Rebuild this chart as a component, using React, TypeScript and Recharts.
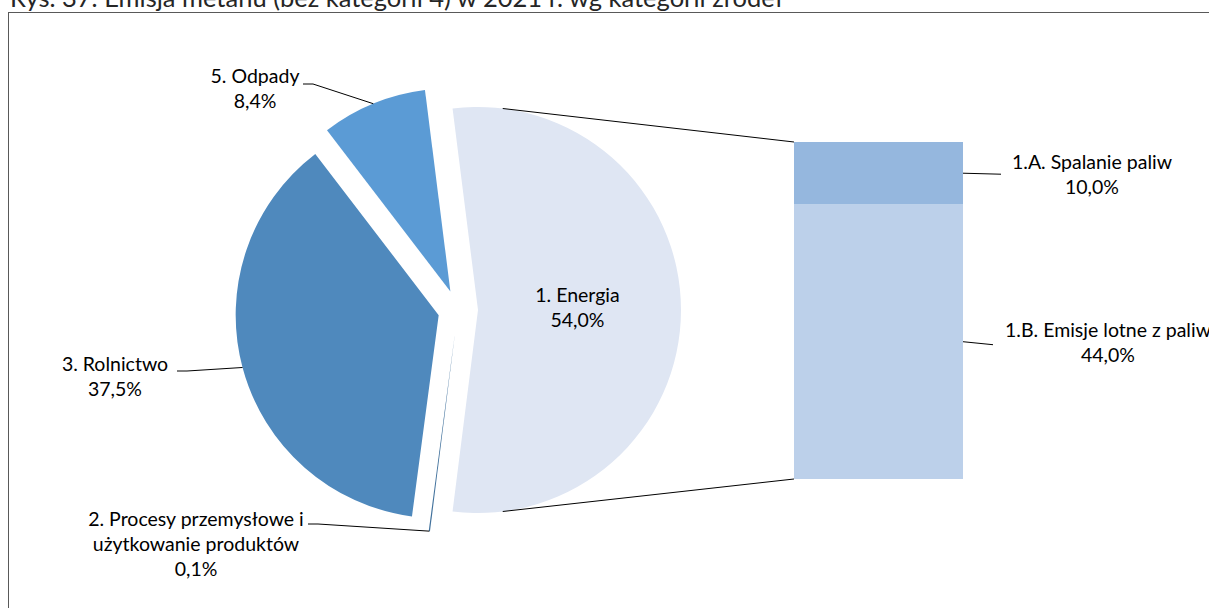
import { Bar, BarChart, Cell, LabelList, Pie, PieChart, XAxis, YAxis } from 'recharts'

const W = 1209
const H = 608

const TITLE = 'Rys. 37. Emisja metanu (bez kategorii 4) w 2021 r. wg kategorii źródeł'

// main pie: categories + shares (%)
const categories = [
  '1. Energia',
  '2. Procesy przemysłowe i\nużytkowanie produktów',
  '3. Rolnictwo',
  '5. Odpady',
]
const shares = [54.0, 0.1, 37.5, 8.4]

// bar-of-pie split of 1. Energia
const subCategories = ['1.A. Spalanie paliw', '1.B. Emisje lotne z paliw']
const subShares = [10.0, 44.0]

const SLICE_COLORS = ['#dfe6f3', '#41719c', '#4f89bd', '#5b9bd5']
const SUB_COLORS = ['#95b7de', '#bcd0ea']
const FONT = 'Lato, "Open Sans", sans-serif'
const FONT_SIZE = 19.5
const LINE_GAP = 25

const PIE_CX = 458
const PIE_CY = 310
const RADIUS = 203
const EXPLODE = 20
const CONNECTOR_ANGLE = 83

const BAR_LEFT = 794
const BAR_RIGHT = 963
const BAR_TOP = 142
const BAR_BOTTOM = 479

const RAD = Math.PI / 180
const total = shares.reduce((a, b) => a + b, 0)
const START_ANGLE = (shares[0] / total) * 180

const pieData = categories.map((name, i) => ({ name, value: shares[i] }))
const barData = [{ name: categories[0], spalanie: subShares[0], lotne: subShares[1] }]

// label placement for slices outside the pie (text centre x, first baseline, leader start)
const SLICE_LABELS: Record<number, { tx: number; ty: number; lx: number; ly: number }> = {
  1: { tx: 196, ty: 526, lx: 308, ly: 524 },
  2: { tx: 115, ty: 371, lx: 177, ly: 371 },
  3: { tx: 255, ty: 83, lx: 303, ly: 84 },
}
const SUB_LABELS = [
  { dx: 129, lineDx: 38, lineDy: 1 },
  { dx: 145, lineDx: 30, lineDy: 3 },
]

const fmt = (v: number) => `${v.toFixed(1).replace('.', ',')}%`

function midAngle(i: number) {
  const before = shares.slice(0, i).reduce((a, b) => a + b, 0)
  return START_ANGLE - ((before + shares[i] / 2) / total) * 360
}

function sliceCenter(i: number) {
  const a = midAngle(i) * RAD
  return { x: PIE_CX + EXPLODE * Math.cos(a), y: PIE_CY - EXPLODE * Math.sin(a) }
}

function TextLines({ x, y, lines }: { x: number; y: number; lines: string[] }) {
  return (
    <text x={x} y={y} textAnchor="middle" fill="#000" fontFamily={FONT} fontSize={FONT_SIZE}>
      {lines.map((l, i) => (
        <tspan key={i} x={x} y={y + i * LINE_GAP}>
          {l}
        </tspan>
      ))}
    </text>
  )
}

function renderSliceLabel(visible: number) {
  return (props: any) => {
    const name = props.payload?.name ?? props.name
    if (name !== categories[visible]) return null
    const lines = [...categories[visible].split('\n'), fmt(shares[visible])]
    if (visible === 0) {
      return <TextLines x={props.cx + RADIUS * 0.49} y={props.cy - 8} lines={lines} />
    }
    const cfg = SLICE_LABELS[visible]
    const a = props.midAngle * RAD
    const px = props.cx + props.outerRadius * Math.cos(a)
    const py = props.cy - props.outerRadius * Math.sin(a)
    return (
      <g>
        <polyline
          points={`${cfg.lx},${cfg.ly} ${cfg.lx + 10},${cfg.ly} ${px},${py}`}
          fill="none"
          stroke="#000"
          strokeWidth={1}
        />
        <TextLines x={cfg.tx} y={cfg.ty} lines={lines} />
      </g>
    )
  }
}

function energyPoint(angle: number) {
  const c = sliceCenter(0)
  return { x: c.x + RADIUS * Math.cos(angle * RAD), y: c.y - RADIUS * Math.sin(angle * RAD) }
}

function SubBarShape(props: any, top: boolean, color: string) {
  const { x, y, width, height } = props
  const p = energyPoint(top ? CONNECTOR_ANGLE : -CONNECTOR_ANGLE)
  const ey = top ? y : y + height
  return (
    <g>
      <rect x={x} y={y} width={width} height={height} fill={color} />
      <line x1={p.x} y1={p.y} x2={x} y2={ey} stroke="#000" strokeWidth={1} />
    </g>
  )
}

function renderSubLabel(idx: number) {
  return (props: any) => {
    const { x, y, width, height } = props
    const cfg = SUB_LABELS[idx]
    const right = x + width
    const mid = y + height / 2
    return (
      <g>
        <line
          x1={right}
          y1={mid}
          x2={right + cfg.lineDx}
          y2={mid + cfg.lineDy}
          stroke="#000"
          strokeWidth={1}
        />
        <TextLines
          x={right + cfg.dx}
          y={mid - 4.5}
          lines={[subCategories[idx], fmt(subShares[idx])]}
        />
      </g>
    )
  }
}

export default function App() {
  return (
    <div
      style={{
        position: 'absolute',
        left: 0,
        top: 0,
        width: W,
        height: H,
        overflow: 'hidden',
        background: '#fff',
      }}
    >
      <svg width={W} height={H} style={{ position: 'absolute', left: 0, top: 0 }}>
        <text x={10} y={7} fontFamily={FONT} fontSize={25.5} fill="#262626">
          {TITLE}
        </text>
        <rect x={8.5} y={12.5} width={W} height={H} fill="none" stroke="#595959" strokeWidth={1} />
      </svg>

      <div style={{ position: 'absolute', left: 0, top: 0 }}>
        <PieChart width={W} height={H} margin={{ top: 0, right: 0, bottom: 0, left: 0 }}>
          {categories.map((_, s) => {
            const c = sliceCenter(s)
            return (
              <Pie
                key={s}
                data={pieData}
                dataKey="value"
                nameKey="name"
                cx={c.x}
                cy={c.y}
                outerRadius={RADIUS}
                startAngle={START_ANGLE}
                endAngle={START_ANGLE - 360}
                stroke="none"
                isAnimationActive={false}
                label={renderSliceLabel(s)}
                labelLine={false}
              >
                {pieData.map((_, i) => (
                  <Cell key={i} fill={i === s ? SLICE_COLORS[i] : 'none'} />
                ))}
              </Pie>
            )
          })}
        </PieChart>
      </div>

      <div style={{ position: 'absolute', left: 0, top: 0, pointerEvents: 'none' }}>
        <BarChart
          width={W}
          height={H}
          data={barData}
          barCategoryGap={0}
          margin={{ top: BAR_TOP, right: W - BAR_RIGHT, bottom: H - BAR_BOTTOM, left: BAR_LEFT }}
        >
          <XAxis dataKey="name" hide />
          <YAxis hide domain={[0, subShares.reduce((a, b) => a + b, 0)]} />
          <Bar
            dataKey="lotne"
            stackId="e"
            isAnimationActive={false}
            shape={(p: any) => SubBarShape(p, false, SUB_COLORS[1])}
          >
            <LabelList content={renderSubLabel(1)} />
          </Bar>
          <Bar
            dataKey="spalanie"
            stackId="e"
            isAnimationActive={false}
            shape={(p: any) => SubBarShape(p, true, SUB_COLORS[0])}
          >
            <LabelList content={renderSubLabel(0)} />
          </Bar>
        </BarChart>
      </div>
    </div>
  )
}
